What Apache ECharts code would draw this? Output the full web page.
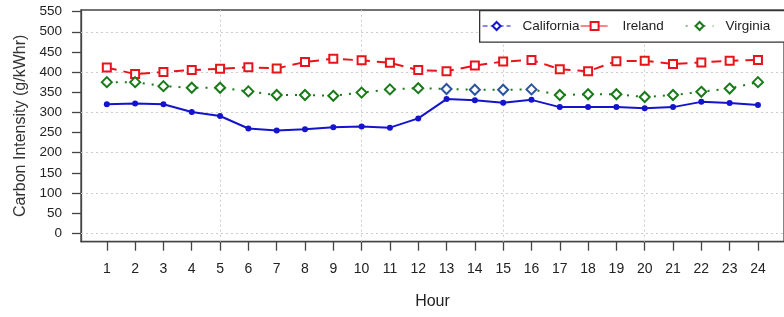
<!DOCTYPE html>
<html>
<head>
<meta charset="utf-8">
<script src="https://cdn.jsdelivr.net/npm/echarts@6/dist/echarts.min.js"></script>
<style>html,body{margin:0;padding:0;background:#fff;}#chart{width:784px;height:317px;}</style>
</head>
<body>
<div id="chart"></div>
<script>
const hours = [1,2,3,4,5,6,7,8,9,10,11,12,13,14,15,16,17,18,19,20,21,22,23,24];
const california = [320,322,320,301,291,260,255,258,263,265,262,285,333,330,324,331,313,313,313,310,313,326,323,318];
const ireland = [411,395,400,405,408,412,409,425,433,429,423,405,402,416,426,430,407,402,427,428,420,424,428,430];
const virginia = [375,375,365,361,361,352,343,343,341,349,357,360,358,356,356,357,343,345,345,338,343,351,359,375];
const yTicks = [0,50,100,150,200,250,300,350,400,450,500,550];
const yGrid = [0,100,200,300,400,500];
const xGrid = [5,10,15,20];

const pts = arr => arr.map((v,i)=>[hours[i], v]);
const font = 'Liberation Sans, Arial, sans-serif';

const chart = echarts.init(document.getElementById('chart'));
chart.setOption({
  animation: false,
  backgroundColor: '#fff',
  grid: {left: 81, top: 10, width: 708, height: 231.7, show: true, borderColor: '#444', borderWidth: 1.3, backgroundColor: 'transparent'},
  xAxis: {
    type: 'value', min: 0.088, max: 24.92,
    name: 'Hour', nameLocation: 'middle', nameGap: 52,
    nameTextStyle: {fontFamily: font, fontSize: 16, color: '#222'},
    axisLine: {show: true, onZero: false, lineStyle: {color: '#444', width: 1.3}},
    axisTick: {show: true, inside: false, length: 9, customValues: hours, lineStyle: {color: '#444', width: 1.3}},
    axisLabel: {customValues: hours, margin: 20, fontFamily: font, fontSize: 14, color: '#222'},
    splitLine: {show: false}
  },
  yAxis: {
    type: 'value', min: -21, max: 554,
    name: 'Carbon Intensity (g/kWhr)', nameLocation: 'middle', nameGap: 50,
    nameTextStyle: {fontFamily: font, fontSize: 16, color: '#333'},
    axisLine: {show: true, onZero: false, lineStyle: {color: '#444', width: 1.3}},
    axisTick: {show: true, inside: false, length: 9, customValues: yTicks, lineStyle: {color: '#444', width: 1.3}},
    axisLabel: {customValues: yTicks, margin: 19, fontFamily: font, fontSize: 13.5, color: '#222'},
    splitLine: {show: false}
  },
  visualMap: {
    type: 'piecewise', show: false, seriesIndex: 2, dimension: 0,
    pieces: [{gte: 12.9, lte: 16.1, color: '#2a55a0'}],
    outOfRange: {color: '#1a7a1a'}
  },
  graphic: [{
    type: 'rect', left: 479, top: 10, z: 50,
    shape: {width: 320, height: 31.5},
    style: {fill: '#fff', stroke: '#333', lineWidth: 1.3}
  }],
  legend: [
    {left: 482, top: 19, padding: 0, itemWidth: 28, itemHeight: 10, z: 60, lineStyle: {width: 1.2},
     data: [{name: 'California', lineStyle: {type: [5,3], width: 1.2}}],
     textStyle: {fontFamily: font, fontSize: 13.5, color: '#222', padding: [0,0,0,7]}},
    {left: 580, top: 19, padding: 0, itemWidth: 28, itemHeight: 10, z: 60, lineStyle: {width: 1.2},
     data: ['Ireland'],
     textStyle: {fontFamily: font, fontSize: 13.5, color: '#222', padding: [0,0,0,9]}},
    {left: 685, top: 19, padding: 0, itemWidth: 28, itemHeight: 10, z: 60, lineStyle: {width: 1.2},
     data: ['Virginia'],
     textStyle: {fontFamily: font, fontSize: 13.5, color: '#222', padding: [0,0,0,7]}}
  ],
  series: [
    {
      name: 'California', type: 'line', z: 4,
      symbol: 'emptyDiamond', symbolSize: 8,
      data: pts(california).map(p => ({value: p, symbol: 'circle', symbolSize: 6})),
      itemStyle: {color: '#1414cc'},
      lineStyle: {color: '#1414cc', width: 2},
      markLine: {
        silent: true, symbol: 'none', z: 1, animation: false,
        label: {show: false},
        lineStyle: {type: [2,3], color: '#cdcdcd', width: 1},
        data: [...xGrid.map(v => ({xAxis: v})), ...yGrid.map(v => ({yAxis: v}))]
      }
    },
    {
      name: 'Ireland', type: 'line', z: 3,
      symbol: 'emptyRect', symbolSize: 8,
      data: pts(ireland),
      itemStyle: {color: '#e8141c', borderWidth: 2},
      lineStyle: {color: '#e8141c', width: 2, type: [10,7]}
    },
    {
      name: 'Virginia', type: 'line', z: 3,
      symbol: 'emptyDiamond', symbolSize: 10,
      data: pts(virginia),
      itemStyle: {color: '#1a7a1a', borderWidth: 2},
      lineStyle: {color: '#1a7a1a', width: 2, type: [2,7]}
    }
  ]
});
</script>
</body>
</html>
